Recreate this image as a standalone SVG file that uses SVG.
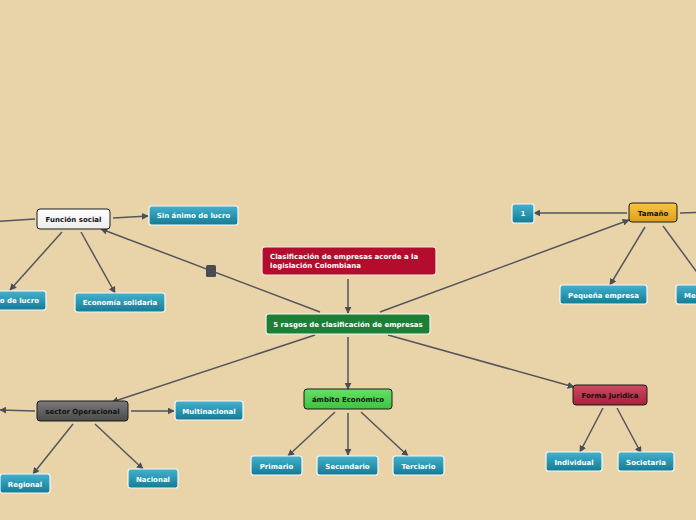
<svg xmlns="http://www.w3.org/2000/svg" width="696" height="520" viewBox="0 0 696 520">
<defs>
<linearGradient id="gTeal" x1="0" y1="0" x2="0" y2="1"><stop offset="0" stop-color="#45b0cb"/><stop offset="0.5" stop-color="#2a97b3"/><stop offset="1" stop-color="#167a93"/></linearGradient>
<linearGradient id="gOrange" x1="0" y1="0" x2="0" y2="1"><stop offset="0" stop-color="#f7c542"/><stop offset="1" stop-color="#e0a01a"/></linearGradient>
<linearGradient id="gGray" x1="0" y1="0" x2="0" y2="1"><stop offset="0" stop-color="#7a7a7a"/><stop offset="1" stop-color="#4a4a4a"/></linearGradient>
<linearGradient id="gGreen" x1="0" y1="0" x2="0" y2="1"><stop offset="0" stop-color="#66e066"/><stop offset="1" stop-color="#3cc43c"/></linearGradient>
<linearGradient id="gRed" x1="0" y1="0" x2="0" y2="1"><stop offset="0" stop-color="#d04a62"/><stop offset="1" stop-color="#a8203a"/></linearGradient>
<linearGradient id="gWhite" x1="0" y1="0" x2="0" y2="1"><stop offset="0" stop-color="#ffffff"/><stop offset="1" stop-color="#ececec"/></linearGradient>
<marker id="arr" viewBox="0 0 10 10" refX="9" refY="5" markerWidth="7" markerHeight="7" markerUnits="userSpaceOnUse" orient="auto"><path d="M0,0 L10,5 L0,10 z" fill="#4d4d55"/></marker>
</defs>
<style>
.bg{fill:#e9d4aa}
.ln{stroke:#55555c;stroke-width:1.5;fill:none}
.teal{fill:url(#gTeal);stroke:#f4f8fa;stroke-width:1.2}
.tt{font-family:"DejaVu Sans",sans-serif;font-weight:bold;font-size:7px;fill:#ffffff;text-anchor:middle}
.dt{font-family:"DejaVu Sans",sans-serif;font-weight:bold;font-size:7px;fill:#111111;text-anchor:middle}
.main{stroke:#1a1a1a;stroke-width:1}
</style>
<rect class="bg" x="0" y="0" width="696" height="520"/>
<g id="connectors">
<line class="ln" x1="348" y1="279" x2="348" y2="313" marker-end="url(#arr)"/>
<line class="ln" x1="320" y1="312" x2="101" y2="229" marker-end="url(#arr)"/>
<rect x="206" y="265" width="10" height="12" rx="1.5" fill="#4a4a52"/>
<line class="ln" x1="380" y1="312" x2="629" y2="220" marker-end="url(#arr)"/>
<line class="ln" x1="315" y1="335" x2="112" y2="402" marker-end="url(#arr)"/>
<line class="ln" x1="348" y1="337" x2="348" y2="389" marker-end="url(#arr)"/>
<line class="ln" x1="388" y1="335" x2="574" y2="387" marker-end="url(#arr)"/>
<line class="ln" x1="35" y1="219" x2="-10" y2="222" marker-end="url(#arr)"/>
<line class="ln" x1="113" y1="218" x2="148" y2="216" marker-end="url(#arr)"/>
<line class="ln" x1="62" y1="232" x2="10" y2="290" marker-end="url(#arr)"/>
<line class="ln" x1="81" y1="232" x2="115" y2="293" marker-end="url(#arr)"/>
<line class="ln" x1="627" y1="213" x2="534" y2="213" marker-end="url(#arr)"/>
<line class="ln" x1="680" y1="213" x2="710" y2="212" marker-end="url(#arr)"/>
<line class="ln" x1="645" y1="227" x2="610" y2="285" marker-end="url(#arr)"/>
<line class="ln" x1="663" y1="226" x2="710" y2="290" marker-end="url(#arr)"/>
<line class="ln" x1="35" y1="411" x2="0" y2="410" marker-end="url(#arr)"/>
<line class="ln" x1="131" y1="411" x2="174" y2="411" marker-end="url(#arr)"/>
<line class="ln" x1="73" y1="424" x2="33" y2="474" marker-end="url(#arr)"/>
<line class="ln" x1="95" y1="424" x2="143" y2="469" marker-end="url(#arr)"/>
<line class="ln" x1="335" y1="412" x2="288" y2="456" marker-end="url(#arr)"/>
<line class="ln" x1="348" y1="413" x2="348" y2="455" marker-end="url(#arr)"/>
<line class="ln" x1="361" y1="412" x2="408" y2="456" marker-end="url(#arr)"/>
<line class="ln" x1="603" y1="408" x2="580" y2="452" marker-end="url(#arr)"/>
<line class="ln" x1="617" y1="408" x2="641" y2="453" marker-end="url(#arr)"/>
</g>
<g id="n-red"><rect x="262" y="247" width="174" height="28" rx="3" fill="#b30c2c" stroke="#f2e6e6" stroke-width="1.2"/><text x="270" y="259" font-family="DejaVu Sans,sans-serif" font-weight="bold" font-size="7" fill="#fff">Clasificación de empresas acorde a la</text><text x="270" y="268" font-family="DejaVu Sans,sans-serif" font-weight="bold" font-size="7" fill="#fff">legislación Colombiana</text></g>
<g id="n-central"><rect x="266" y="314" width="164" height="20" rx="2.5" fill="#1b7f38" stroke="#f0f4ee" stroke-width="1.2"/><text class="tt" x="348" y="326.5">5 rasgos de clasificación de empresas</text></g>
<g id="n-funcion"><rect class="main" x="37" y="209" width="73" height="20" rx="3" fill="url(#gWhite)"/><text class="dt" x="73.5" y="221.5">Función social</text></g>
<g id="n-sin"><rect class="teal" x="149" y="206" width="89" height="19" rx="2.5"/><text class="tt" x="193.5" y="218">Sin ánimo de lucro</text></g>
<g id="n-con"><rect class="teal" x="-44" y="291" width="90" height="19" rx="2.5"/><text class="tt" x="1" y="303">Con ánimo de lucro</text></g>
<g id="n-eco"><rect class="teal" x="75" y="293" width="90" height="19" rx="2.5"/><text class="tt" x="120" y="305">Economía solidaria</text></g>
<g id="n-tamano"><rect class="main" x="629" y="203" width="48" height="19" rx="3" fill="url(#gOrange)"/><text class="dt" x="653" y="215.5">Tamaño</text></g>
<g id="n-1"><rect class="teal" x="512" y="204" width="22" height="19" rx="2.5"/><text class="tt" x="523" y="216">1</text></g>
<g id="n-peq"><rect class="teal" x="560" y="285" width="87" height="19" rx="2.5"/><text class="tt" x="603.5" y="297.5">Pequeña empresa</text></g>
<g id="n-med"><rect class="teal" x="676" y="285" width="80" height="19" rx="2.5"/><text class="tt" x="684" y="297.5" style="text-anchor:start">Mediana empresa</text></g>
<g id="n-sector"><rect class="main" x="37" y="401" width="91" height="20" rx="3" fill="url(#gGray)"/><text class="dt" x="82.5" y="413.5">sector Operacional</text></g>
<g id="n-multi"><rect class="teal" x="175" y="401" width="68" height="19" rx="2.5"/><text class="tt" x="209" y="413.5">Multinacional</text></g>
<g id="n-regional"><rect class="teal" x="0" y="474" width="50" height="19" rx="2.5"/><text class="tt" x="25" y="486.5">Regional</text></g>
<g id="n-nacional"><rect class="teal" x="128" y="469" width="50" height="19" rx="2.5"/><text class="tt" x="153" y="481.5">Nacional</text></g>
<g id="n-ambito"><rect class="main" x="304" y="389" width="88" height="20" rx="3" fill="url(#gGreen)"/><text class="dt" x="348" y="401.5">ámbito Económico</text></g>
<g id="n-prim"><rect class="teal" x="251" y="456" width="51" height="19" rx="2.5"/><text class="tt" x="276.5" y="468.5">Primario</text></g>
<g id="n-sec"><rect class="teal" x="317" y="456" width="61" height="19" rx="2.5"/><text class="tt" x="347.5" y="468.5">Secundario</text></g>
<g id="n-ter"><rect class="teal" x="393" y="456" width="51" height="19" rx="2.5"/><text class="tt" x="418.5" y="468.5">Terciario</text></g>
<g id="n-forma"><rect class="main" x="573" y="385" width="74" height="20" rx="3" fill="url(#gRed)"/><text class="dt" x="610" y="397.5">Forma Juridica</text></g>
<g id="n-ind"><rect class="teal" x="546" y="452" width="56" height="19" rx="2.5"/><text class="tt" x="574" y="464.5">Individual</text></g>
<g id="n-soc"><rect class="teal" x="618" y="452" width="56" height="19" rx="2.5"/><text class="tt" x="646" y="464.5">Societaria</text></g>
</svg>
